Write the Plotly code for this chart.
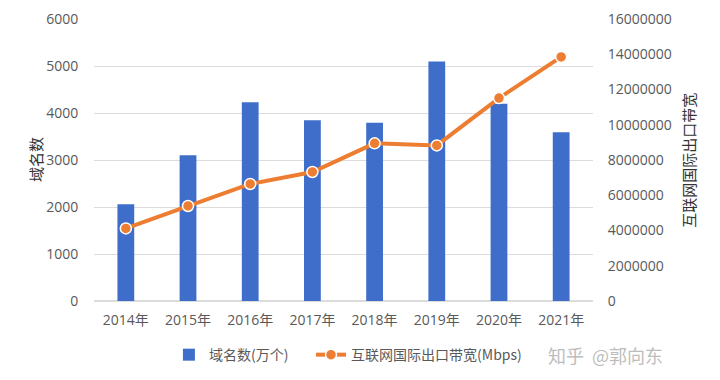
import plotly.graph_objects as go

years = ["2014年", "2015年", "2016年", "2017年", "2018年", "2019年", "2020年", "2021年"]
domains = [2060, 3102, 4228, 3848, 3793, 5094, 4198, 3593]
bandwidth = [4118663, 5392116, 6640291, 7320180, 8946570, 8827751, 11511397, 13850000]

FONT = "Open Sans, Noto Sans CJK SC"
CJK = "Noto Sans CJK SC"
GREY = "#595959"

fig = go.Figure()
fig.add_trace(go.Bar(
    x=years, y=domains, name="域名数(万个)",
    marker=dict(color="#3F6ECA", line=dict(width=0)),
    width=0.27, yaxis="y", legend="legend",
))
fig.add_trace(go.Scatter(
    x=years, y=bandwidth, name="互联网国际出口带宽(Mbps)",
    mode="lines+markers",
    line=dict(color="#ED7D31", width=4),
    marker=dict(color="#ED7D31", size=11, line=dict(color="white", width=1.5)),
    yaxis="y2", legend="legend2",
))

legend_common = dict(orientation="h", xref="container", yref="container",
                     xanchor="left", y=0.067, yanchor="middle",
                     font=dict(size=14, color=GREY, family=CJK))

fig.update_layout(
    width=712, height=372,
    margin=dict(l=86, r=127, t=11, b=79, autoexpand=False),
    paper_bgcolor="white", plot_bgcolor="white",
    font=dict(family=FONT, size=14, color=GREY),
    showlegend=True,
    legend=dict(x=0.226, **legend_common),
    legend2=dict(x=0.4256, **legend_common),
    xaxis=dict(showgrid=False, showline=False, ticks="outside", ticklen=6,
               tickcolor="rgba(0,0,0,0)", automargin=False,
               tickfont=dict(size=14, color=GREY)),
    yaxis=dict(range=[0, 6000], dtick=1000, showgrid=True, gridcolor="#DCDCDC",
               gridwidth=1, zeroline=True, zerolinecolor="#DCDCDC",
               ticks="outside", ticklen=12, tickcolor="rgba(0,0,0,0)",
               automargin=False, tickfont=dict(size=14, color=GREY)),
    yaxis2=dict(range=[0, 16000000], dtick=2000000, overlaying="y", side="right",
                showgrid=False, zeroline=False, ticks="outside", ticklen=11,
                tickcolor="rgba(0,0,0,0)", tickformat="d", automargin=False,
                tickfont=dict(size=14, color=GREY)),
)

fig.add_annotation(text="域名数", xref="paper", yref="paper", x=-0.118, y=0.5,
                   xanchor="center", yanchor="middle",
                   textangle=-90, showarrow=False,
                   font=dict(size=15, color="#333333", family=CJK))
fig.add_annotation(text="互联网国际出口带宽", xref="paper", yref="paper", x=1.19, y=0.5,
                   xanchor="center", yanchor="middle",
                   textangle=-90, showarrow=False,
                   font=dict(size=15, color="#333333", family=CJK))
fig.add_annotation(text="知乎  @郭向东", xref="paper", yref="paper", x=1.144, y=-0.191,
                   xanchor="right", yanchor="middle", showarrow=False,
                   font=dict(size=18, color="#BDBDBD", family=CJK))

fig.write_html("out.html")
